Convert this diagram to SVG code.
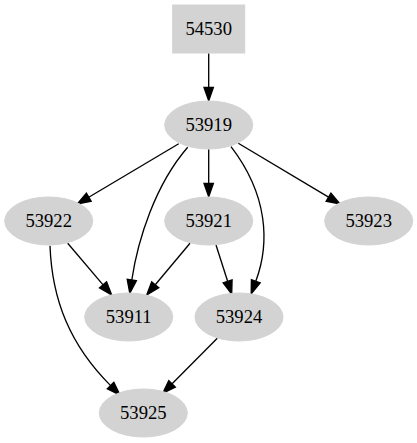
<svg xmlns="http://www.w3.org/2000/svg" width="417" height="443" viewBox="0 0 417 443">
<style>
.n{fill:#d3d3d3;stroke:#d3d3d3;stroke-width:1}
.t{font-family:"Liberation Serif","Times New Roman",serif;font-size:18.67px;text-anchor:middle;fill:#000}
.e path{fill:none;stroke:#000;stroke-width:1.33}
.e polygon{fill:#000;stroke:#000;stroke-width:1.33}
</style>
<rect width="417" height="443" fill="#fff"/>
<g id="edges" class="e">
<g id="e_54530_53919"><path d="M208.7,53.3 L208.7,87.3"/><polygon points="204,87.3 213.4,87.3 208.7,100.7"/></g>
<g id="e_53919_53922"><path d="M178.7,143.7 L88.75,197.2"/><polygon points="91.1,201.2 86.4,193.2 77.3,204"/></g>
<g id="e_53919_53911"><path d="M187.7,147.3 C155,185 137.8,240 131.8,280"/><polygon points="136.4,280.7 127.2,279.3 129.8,293.2"/></g>
<g id="e_53919_53921"><path d="M208.7,149.3 L208.7,183.3"/><polygon points="204,183.3 213.4,183.3 208.7,196.7"/></g>
<g id="e_53919_53924"><path d="M231,146.7 C268,195 270,243 255.8,281.3"/><polygon points="260.2,282.9 251.4,279.7 251.2,293.8"/></g>
<g id="e_53919_53923"><path d="M238.3,143.3 L328.55,197.16"/><polygon points="330.95,193.15 326.15,201.17 340,204"/></g>
<g id="e_53922_53911"><path d="M67.7,243.3 L103.06,284.85"/><polygon points="106.6,281.8 99.5,287.9 111.7,295"/></g>
<g id="e_53922_53925"><path d="M50,245.7 C52,300 70,345 110.6,385.6"/><polygon points="113.9,382.3 107.3,388.9 120,395"/></g>
<g id="e_53921_53911"><path d="M190,243.3 L155.26,284.78"/><polygon points="158.84,287.78 151.68,281.78 146.7,295"/></g>
<g id="e_53921_53924"><path d="M216,245 L227.63,281.31"/><polygon points="232.08,279.89 223.18,282.73 231.7,294"/></g>
<g id="e_53924_53925"><path d="M217.3,338.3 L172.09,383.84"/><polygon points="175.4,387.13 168.78,380.55 162.7,393.3"/></g>
</g>
<g id="n54530"><rect class="n" x="172.7" y="5" width="72" height="48"/><text class="t" x="208.7" y="34.6">54530</text></g>
<g id="n53919"><ellipse class="n" cx="208.7" cy="125" rx="44" ry="24"/><text class="t" x="208.7" y="130.6">53919</text></g>
<g id="n53922"><ellipse class="n" cx="48.7" cy="221" rx="44" ry="24"/><text class="t" x="48.7" y="226.6">53922</text></g>
<g id="n53921"><ellipse class="n" cx="208.7" cy="221" rx="44" ry="24"/><text class="t" x="208.7" y="226.6">53921</text></g>
<g id="n53923"><ellipse class="n" cx="368.7" cy="221" rx="44" ry="24"/><text class="t" x="368.7" y="226.6">53923</text></g>
<g id="n53911"><ellipse class="n" cx="128.7" cy="317" rx="44" ry="24"/><text class="t" x="128.7" y="322.6">53911</text></g>
<g id="n53924"><ellipse class="n" cx="239" cy="317" rx="44" ry="24"/><text class="t" x="239" y="322.6">53924</text></g>
<g id="n53925"><ellipse class="n" cx="143.3" cy="413" rx="44" ry="24"/><text class="t" x="143.3" y="418.6">53925</text></g>
</svg>
